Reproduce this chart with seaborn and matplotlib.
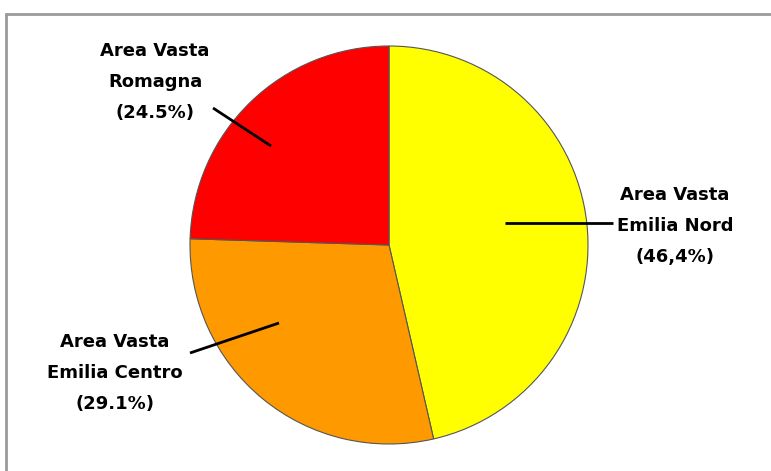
import matplotlib
matplotlib.use("Agg")
import matplotlib.pyplot as plt
import seaborn as sns

sns.set_theme(style="white")
plt.rcParams["font.family"] = ["DejaVu Sans"]

# Share of each Area Vasta
regions = ["Area Vasta\nEmilia Nord", "Area Vasta\nEmilia Centro", "Area Vasta\nRomagna"]
shares = [46.4, 29.1, 24.5]
share_labels = ["(46,4%)", "(29.1%)", "(24.5%)"]
colors = ["#FFFF00", "#FF9900", "#FF0000"]

W, H = 771, 471
fig = plt.figure(figsize=(W / 100, H / 100), dpi=100)
ax = fig.add_axes([0, 0, 1, 1])

def py(y):
    return H - y

cx, cy, r = 389, 245, 199
ax.pie(shares, colors=colors, startangle=90, counterclock=False,
       center=(cx, py(cy)), radius=r, frame=True,
       wedgeprops=dict(edgecolor="#555555", linewidth=0.8))
ax.set_xlim(0, W)
ax.set_ylim(0, H)
ax.set_aspect("equal")
ax.set_axis_off()

# Outer frame (gray, top and left visible)
ax.plot([6, 6], [py(H + 10), py(14)], color="#9a9a9a", lw=2, clip_on=False)
ax.plot([6, W + 10], [py(14), py(14)], color="#9a9a9a", lw=2, clip_on=False)

# Labels and leader lines
label_pos = [(675, 226), (115, 373), (155, 82)]
leaders = [((505, 223), (613, 223)), ((279, 323), (190, 353)), ((271, 146), (213, 108))]
for name, pct, (lx, ly), ((x0, y0), (x1, y1)) in zip(regions, share_labels, label_pos, leaders):
    ax.plot([x0, x1], [py(y0), py(y1)], color="black", lw=2, solid_capstyle="butt")
    ax.text(lx, py(ly), f"{name}\n{pct}", ha="center", va="center",
            fontsize=13, fontweight="bold", color="black", linespacing=1.9)

fig.savefig("out.png", dpi=100, facecolor="white")
